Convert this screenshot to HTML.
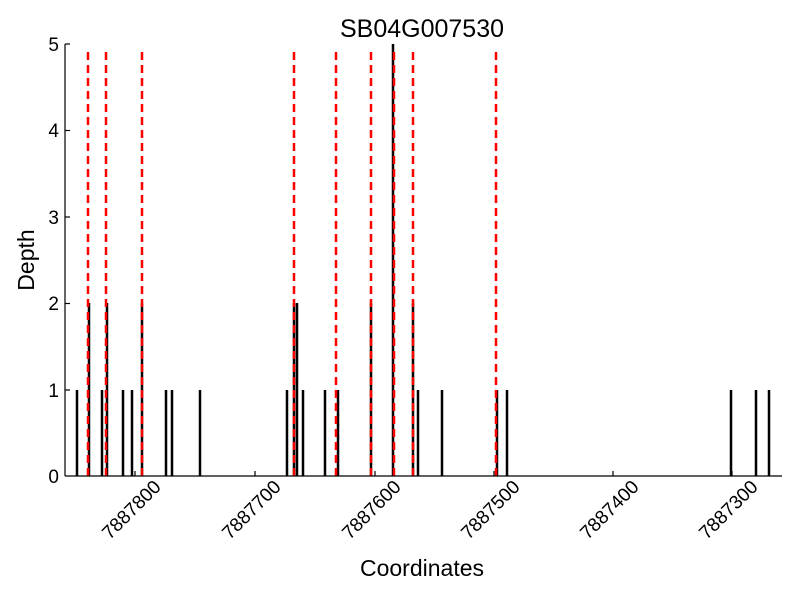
<!DOCTYPE html>
<html><head><meta charset="utf-8"><style>body{margin:0;background:#fff}svg{display:block}text{font-family:"Liberation Sans",sans-serif;fill:#000}</style></head><body>
<svg width="800" height="600" viewBox="0 0 800 600">
<g stroke="#000" stroke-width="2.5">
<line x1="77" y1="476" x2="77" y2="390"/>
<line x1="89" y1="476" x2="89" y2="303"/>
<line x1="102" y1="476" x2="102" y2="390"/>
<line x1="107" y1="476" x2="107" y2="303"/>
<line x1="123" y1="476" x2="123" y2="390"/>
<line x1="132" y1="476" x2="132" y2="390"/>
<line x1="142" y1="476" x2="142" y2="303"/>
<line x1="166" y1="476" x2="166" y2="390"/>
<line x1="172" y1="476" x2="172" y2="390"/>
<line x1="200" y1="476" x2="200" y2="390"/>
<line x1="287" y1="476" x2="287" y2="390"/>
<line x1="294" y1="476" x2="294" y2="303"/>
<line x1="297" y1="476" x2="297" y2="303"/>
<line x1="303" y1="476" x2="303" y2="390"/>
<line x1="325" y1="476" x2="325" y2="390"/>
<line x1="338" y1="476" x2="338" y2="390"/>
<line x1="371" y1="476" x2="371" y2="303"/>
<line x1="393" y1="476" x2="393" y2="44"/>
<line x1="413" y1="476" x2="413" y2="303"/>
<line x1="418" y1="476" x2="418" y2="390"/>
<line x1="442" y1="476" x2="442" y2="390"/>
<line x1="497" y1="476" x2="497" y2="390"/>
<line x1="507" y1="476" x2="507" y2="390"/>
<line x1="731" y1="476" x2="731" y2="390"/>
<line x1="756" y1="476" x2="756" y2="390"/>
<line x1="769" y1="476" x2="769" y2="390"/>
</g>
<g stroke="#f00" stroke-width="2.5" stroke-dasharray="8,5">
<line x1="88" y1="52" x2="88" y2="476"/>
<line x1="106" y1="52" x2="106" y2="476"/>
<line x1="142" y1="52" x2="142" y2="476"/>
<line x1="294" y1="52" x2="294" y2="476"/>
<line x1="336" y1="52" x2="336" y2="476"/>
<line x1="371" y1="52" x2="371" y2="476"/>
<line x1="394" y1="52" x2="394" y2="476"/>
<line x1="413" y1="52" x2="413" y2="476"/>
<line x1="496" y1="52" x2="496" y2="476"/>
</g>
<g stroke="#000" stroke-width="1.2">
<line x1="65" y1="44" x2="65" y2="476"/>
<line x1="65" y1="476" x2="782" y2="476"/>
<line x1="65" y1="44" x2="70" y2="44"/><line x1="65" y1="130.5" x2="70" y2="130.5"/><line x1="65" y1="217" x2="70" y2="217"/><line x1="65" y1="303.5" x2="70" y2="303.5"/><line x1="65" y1="390" x2="70" y2="390"/>
<line x1="135" y1="476" x2="135" y2="471"/><line x1="255" y1="476" x2="255" y2="471"/><line x1="375" y1="476" x2="375" y2="471"/><line x1="494" y1="476" x2="494" y2="471"/><line x1="613" y1="476" x2="613" y2="471"/><line x1="732" y1="476" x2="732" y2="471"/>
</g>
<g font-size="19" text-anchor="end">
<text x="59" y="51">5</text><text x="59" y="137">4</text><text x="59" y="224">3</text><text x="59" y="310">2</text><text x="59" y="397">1</text><text x="59" y="483">0</text>
</g>
<g font-size="19" text-anchor="end">
<text transform="translate(162,488) rotate(-45)">7887800</text>
<text transform="translate(282,488) rotate(-45)">7887700</text>
<text transform="translate(402,488) rotate(-45)">7887600</text>
<text transform="translate(521,488) rotate(-45)">7887500</text>
<text transform="translate(640,488) rotate(-45)">7887400</text>
<text transform="translate(759,488) rotate(-45)">7887300</text>
</g>
<text x="422" y="37" font-size="25" text-anchor="middle">SB04G007530</text>
<text x="422" y="576" font-size="23" text-anchor="middle">Coordinates</text>
<text transform="translate(34,260) rotate(-90)" font-size="23" text-anchor="middle">Depth</text>
</svg>
</body></html>
